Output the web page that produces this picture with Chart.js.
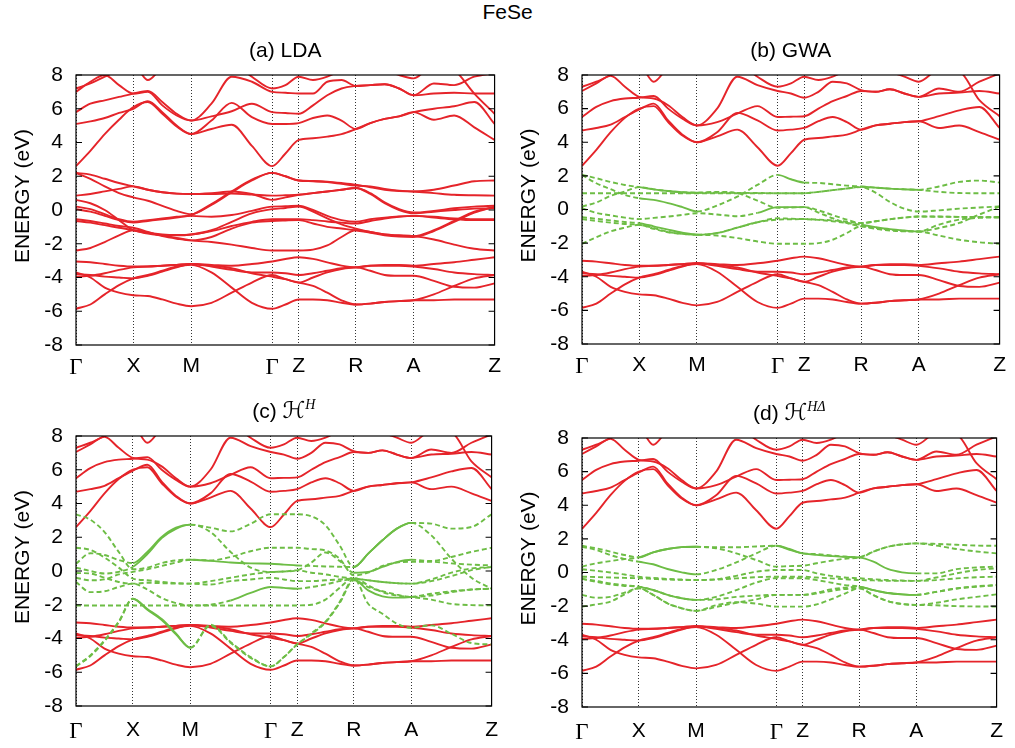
<!DOCTYPE html>
<html>
<head>
<meta charset="utf-8">
<title>FeSe band structure</title>
<script src="https://cdn.jsdelivr.net/npm/chart.js@4.4.1/dist/chart.umd.min.js"></script>
<style>
  body { margin: 0; background: #fff; }
  #page { position: relative; width: 1015px; height: 748px; font-family: "Liberation Sans", Arial, sans-serif; }
  #title { position: absolute; left: 0; top: 0; width: 1015px; text-align: center; font-size: 21px; line-height: 24px; }
  canvas { position: absolute; }
</style>
</head>
<body>
<div id="page">
  <div id="title">FeSe</div>
  <canvas id="panelA" width="510" height="360" style="left:0;top:30px;width:510px;height:360px"></canvas>
  <canvas id="panelB" width="510" height="360" style="left:505px;top:30px;width:510px;height:360px"></canvas>
  <canvas id="panelC" width="510" height="357" style="left:0;top:391px;width:510px;height:357px"></canvas>
  <canvas id="panelD" width="510" height="357" style="left:505px;top:391px;width:510px;height:357px"></canvas>
</div>
<script>
// k-path distances: Γ X M Γ Z R A Z, with sample points between them
const kPos = [0, 14.6, 29.2, 43.7, 58.3, 73, 87.7, 102.3, 117, 137.6, 158.2, 178.7, 199.3,
  212.8, 226.3, 240.8, 255.3, 269.8, 284.3, 299, 313.6, 328.3, 343, 363.6, 384.2, 404.7, 425.3];
const symPos = [0, 58.3, 117, 199.3, 226.3, 284.3, 343, 425.3];
const symLabels = ['Γ', 'X', 'M', 'Γ', 'Z', 'R', 'A', 'Z'];
const yTicks = [-8, -6, -4, -2, 0, 2, 4, 6, 8];

// Se p bands (same in every panel)
const se1 = [-3.05,-3.1,-3.2,-3.3,-3.35,-3.35,-3.3,-3.25,-3.2,-3.25,-3.3,-3.2,-3.05,-2.9,-2.8,-2.9,-3.1,-3.3,-3.4,-3.3,-3.25,-3.25,-3.3,-3.2,-3.1,-2.95,-2.8];
const se2 = [-3.7,-4.0,-4.6,-4.9,-5.05,-5.1,-5.3,-5.55,-5.7,-5.5,-4.9,-4.3,-3.85,-4.1,-4.3,-4.5,-4.9,-5.35,-5.6,-5.55,-5.45,-5.4,-5.35,-5.0,-4.5,-4.05,-3.85];
const se3 = [-5.85,-5.6,-5.0,-4.45,-4.05,-3.85,-3.6,-3.35,-3.25,-3.7,-4.6,-5.5,-5.85,-5.6,-5.3,-5.3,-5.35,-5.5,-5.6,-5.55,-5.45,-5.4,-5.35,-5.35,-5.3,-5.3,-5.3];
const se4 = [-3.8,-3.85,-3.95,-4.0,-4.05,-3.9,-3.65,-3.4,-3.2,-3.35,-3.55,-3.7,-3.7,-3.75,-3.85,-3.75,-3.6,-3.45,-3.4,-3.6,-3.85,-3.9,-3.9,-4.2,-4.55,-4.6,-4.35];
const se5 = [-3.95,-3.9,-3.75,-3.55,-3.4,-3.35,-3.3,-3.25,-3.2,-3.3,-3.45,-3.75,-3.95,-4.1,-4.3,-4.0,-3.7,-3.5,-3.4,-3.3,-3.3,-3.3,-3.35,-3.5,-3.7,-3.8,-3.85];

// LDA conduction bands
const ldaUp1 = [2.6,3.5,4.5,5.35,6.1,6.4,5.7,4.95,4.5,4.8,5.05,3.8,2.6,3.35,4.15,4.25,4.35,4.5,4.8,5.15,5.4,5.55,5.8,5.35,5.6,4.9,4.15];
const ldaUp2 = [5.1,5.25,5.45,5.75,6.0,6.45,5.8,5.0,4.5,5.3,6.35,5.5,5.1,5.1,5.15,5.45,5.6,5.3,4.8,5.15,5.4,5.55,5.8,6.0,6.15,6.4,5.1];
const ldaUp3 = [5.8,6.3,6.5,6.7,6.9,7.05,6.4,5.7,5.3,5.55,5.85,6.3,5.8,5.75,5.7,6.2,6.8,7.2,7.35,7.4,7.45,7.2,6.8,6.9,6.95,6.9,6.9];
const ldaUp4 = [7.0,7.6,8.0,7.4,6.9,7.0,6.2,5.6,5.3,6.3,7.9,7.6,7.0,6.95,6.9,6.9,7.6,7.7,7.35,7.4,7.45,7.2,6.8,7.5,7.4,7.9,8.1];
const ldaUp5 = [7.2,7.5,7.9,8.3,8.6,7.7,8.5,9.2,9.5,9.2,8.8,7.9,7.2,7.4,7.9,7.7,7.9,8.3,8.5,8.5,8.3,8.0,7.8,8.6,8.3,6.9,5.7];

// GW conduction bands (panels b, c, d)
const gwUp1 = [2.6,3.55,4.6,5.45,6.0,6.15,5.2,4.4,4.0,4.35,4.75,3.7,2.6,3.35,4.15,4.25,4.35,4.45,4.75,5.0,5.1,5.2,5.25,4.85,5.0,4.6,4.15];
const gwUp2 = [4.7,4.85,5.05,5.5,5.95,6.3,5.3,4.45,4.0,4.6,5.75,5.3,4.7,4.75,4.85,5.25,5.5,5.2,4.75,5.0,5.1,5.2,5.25,5.55,5.9,6.1,4.85];
const gwUp3 = [5.5,6.1,6.45,6.6,6.65,6.75,6.0,5.4,5.0,5.2,5.7,6.15,5.5,5.52,5.55,6.0,6.45,6.75,7.05,7.0,7.15,6.9,6.7,6.9,6.95,7.05,6.9];
const gwUp4 = [7.05,7.5,7.95,7.3,6.7,6.6,6.2,5.5,5.0,6.0,7.9,7.4,7.05,6.9,6.65,7.0,7.6,7.5,7.1,7.0,7.15,6.9,6.7,7.2,7.0,7.6,8.1];
const gwUp5 = [7.3,7.6,8.0,8.4,8.6,7.6,8.5,9.2,9.5,9.2,8.8,7.9,7.3,7.5,7.9,7.7,7.9,8.3,8.5,8.4,8.2,7.9,7.6,8.3,8.2,6.5,5.55];

// LDA Fe d bands
const ldaD1 = [2.2,2.1,1.85,1.6,1.4,1.2,1.05,0.97,0.95,0.95,0.97,0.92,0.85,0.87,0.9,1.0,1.1,1.2,1.3,1.0,0.45,0.05,-0.15,-0.05,0.1,0.2,0.25];
const ldaD2 = [2.2,1.85,1.4,1.0,0.75,0.55,0.25,-0.05,-0.25,0.3,1.05,1.75,2.2,2.0,1.75,1.72,1.68,1.6,1.5,1.35,1.2,1.12,1.1,1.2,1.45,1.7,1.75];
const ldaD3 = [0.85,0.95,1.1,1.25,1.4,1.2,1.05,0.97,0.95,1.0,1.1,0.95,0.6,0.75,0.9,1.0,1.1,1.2,1.3,0.95,0.4,0.0,-0.2,-0.1,0.0,0.08,0.1];
const ldaD4 = [0.2,0.05,-0.25,-0.55,-0.7,-0.6,-0.5,-0.4,-0.3,0.35,1.1,1.8,2.2,2.0,1.75,1.7,1.65,1.55,1.45,1.4,1.25,1.15,1.1,1.0,0.9,0.87,0.85];
const ldaD5 = [0.05,-0.1,-0.35,-0.6,-0.75,-0.65,-0.55,-0.45,-0.35,-0.4,-0.3,-0.05,0.2,0.22,0.25,0.0,-0.35,-0.6,-0.7,-0.55,-0.45,-0.38,-0.35,-0.4,-0.5,-0.55,-0.55];
const ldaD6 = [-0.55,-0.65,-0.8,-0.95,-1.05,-1.3,-1.55,-1.7,-1.8,-1.6,-1.1,-0.75,-0.65,-0.62,-0.6,-0.8,-1.0,-1.1,-1.2,-1.35,-1.5,-1.58,-1.6,-1.25,-0.7,-0.15,0.2];
const ldaD7 = [-0.65,-0.75,-0.9,-1.05,-1.2,-1.4,-1.5,-1.5,-1.45,-1.2,-0.7,-0.2,0.05,0.12,0.2,-0.1,-0.5,-0.85,-1.1,-1.3,-1.45,-1.52,-1.55,-1.2,-0.65,-0.1,0.15];
const ldaD8 = [0.6,0.4,0.0,-0.6,-1.2,-1.35,-1.45,-1.48,-1.45,-1.25,-0.95,-0.7,-0.55,-0.55,-0.55,-0.6,-0.68,-0.75,-0.8,-0.65,-0.5,-0.4,-0.35,-0.45,-0.55,-0.6,-0.6];
const ldaD9 = [-2.4,-2.25,-1.9,-1.5,-1.2,-1.35,-1.5,-1.65,-1.8,-1.9,-2.05,-2.25,-2.4,-2.4,-2.4,-2.35,-2.1,-1.6,-1.2,-1.3,-1.45,-1.5,-1.55,-1.75,-2.05,-2.3,-2.4];

// GWA d bands
const gwaD1 = [2.06,1.86,1.64,1.46,1.33,1.2,1.1,1.03,1.0,1.0,0.99,0.98,0.97,0.97,0.97,1.05,1.15,1.25,1.33,1.0,0.45,0.05,-0.12,-0.05,0.05,0.12,0.18];
const gwaD2 = [2.06,1.56,1.21,0.87,0.67,0.57,0.38,0.14,-0.12,0.24,0.77,1.46,2.06,1.8,1.6,1.58,1.5,1.42,1.37,1.3,1.24,1.2,1.17,1.37,1.64,1.72,1.6];
const gwaD3 = [0.18,0.42,0.81,1.07,1.33,1.2,1.1,1.03,1.0,1.05,0.97,0.53,0.1,0.12,0.14,-0.18,-0.52,-0.81,-1.0,-1.1,-1.2,-1.28,-1.31,-0.9,-0.6,-0.5,-0.46];
const gwaD4 = [0.97,0.97,0.97,0.97,0.97,0.97,0.97,0.97,0.97,0.97,0.97,0.97,0.97,0.97,0.97,1.05,1.15,1.25,1.35,1.3,1.24,1.2,1.17,1.05,0.98,0.97,0.97];
const gwaD5 = [0.08,-0.2,-0.35,-0.48,-0.57,-0.5,-0.42,-0.32,-0.22,-0.3,-0.4,-0.2,0.14,0.14,0.14,-0.05,-0.33,-0.6,-0.81,-0.7,-0.58,-0.48,-0.42,-0.42,-0.44,-0.45,-0.46];
const gwaD6 = [-0.46,-0.55,-0.65,-0.74,-0.81,-1.0,-1.2,-1.38,-1.5,-1.4,-1.08,-0.76,-0.52,-0.55,-0.57,-0.62,-0.7,-0.8,-0.91,-1.05,-1.17,-1.25,-1.31,-1.1,-0.8,-0.3,0.18];
const gwaD7 = [-0.57,-0.68,-0.78,-0.86,-0.91,-1.1,-1.33,-1.45,-1.5,-1.4,-1.08,-0.76,-0.6,-0.58,-0.57,-0.6,-0.65,-0.72,-0.81,-0.7,-0.58,-0.48,-0.42,-0.43,-0.44,-0.45,-0.46];
const gwaD8 = [-2.04,-1.65,-1.3,-1.08,-0.91,-1.15,-1.35,-1.45,-1.5,-1.55,-1.7,-1.9,-2.04,-2.04,-2.04,-2.0,-1.8,-1.4,-1.0,-1.15,-1.25,-1.3,-1.31,-1.55,-1.8,-1.95,-2.04];

// H^H model bands
const hhD1 = [3.36,3.04,2.31,1.13,0.1,0.2,0.47,0.63,0.67,0.6,0.5,0.45,0.43,0.38,0.33,0.3,0.27,0.25,0.24,1.03,1.82,2.51,2.85,2.81,2.51,2.61,3.36];
const hhD2 = [1.38,1.25,0.8,0.2,-0.45,-0.55,-0.65,-0.72,-0.75,-0.6,-0.4,-0.2,-0.06,-0.03,0.04,0.5,1.1,0.6,-0.1,-0.05,0.24,0.53,0.67,0.59,0.83,1.13,1.38];
const hhD3 = [0.43,1.05,0.95,0.65,0.47,1.13,2.02,2.57,2.75,2.57,2.35,2.8,3.36,3.36,3.36,3.24,2.71,1.52,0.24,1.03,1.82,2.51,2.85,2.11,0.73,-0.4,-1.05];
const hhD4 = [0.2,0.0,-0.15,-0.05,0.25,1.0,1.95,2.5,2.75,2.31,1.13,0.2,-0.06,-0.03,0.04,-0.1,-0.2,-0.35,-0.45,-0.55,-0.65,-0.72,-0.75,-0.6,-0.3,0.05,0.24];
const hhD5 = [-0.12,-0.15,-0.4,-0.65,-0.75,-0.7,-0.72,-0.75,-0.75,-0.8,-0.6,-0.5,-0.4,-0.5,-0.6,-0.6,-0.55,-0.5,-0.45,-0.55,-0.65,-0.72,-0.75,-0.5,-0.1,0.15,0.24];
const hhD6 = [-0.4,-0.55,-0.5,-0.2,-0.05,0.1,0.3,0.5,0.67,0.63,0.83,1.17,1.38,1.38,1.38,1.3,1.22,0.73,-0.26,-0.1,0.3,0.5,0.55,0.55,0.45,0.38,0.33];
const hhD7 = [-0.65,-1.25,-1.2,-0.95,-0.75,-1.1,-1.6,-1.9,-2.04,-2.0,-1.75,-1.3,-0.95,-1.0,-1.05,-0.95,-0.8,-0.6,-0.5,-1.15,-1.5,-1.58,-1.54,-1.35,-1.2,-1.1,-1.05];
const hhD8 = [-2.04,-2.04,-2.04,-2.04,-2.04,-2.04,-2.04,-2.04,-2.04,-2.04,-2.04,-2.04,-2.04,-2.04,-2.04,-2.0,-1.7,-1.0,-0.4,-0.85,-1.25,-1.45,-1.54,-1.7,-1.95,-2.02,-2.04];
const hhD9 = [-5.65,-5.0,-4.1,-3.0,-1.64,-2.25,-2.85,-3.7,-4.55,-3.18,-4.21,-5.1,-5.65,-5.1,-4.35,-3.7,-3.0,-1.84,-0.45,-1.94,-2.53,-3.12,-3.36,-3.22,-3.72,-4.27,-4.35];
const hhD10 = [-5.65,-5.05,-4.15,-3.05,-1.64,-2.3,-2.9,-3.75,-4.55,-3.25,-4.25,-5.15,-5.65,-5.1,-4.35,-3.75,-3.05,-1.9,-0.55,-0.95,-1.2,-1.4,-1.54,-1.45,-1.25,-1.1,-1.05];

// H^HΔ model bands
const hdD1 = [1.59,1.44,1.24,1.04,0.9,1.2,1.4,1.51,1.53,1.44,1.14,0.74,0.35,0.38,0.4,0.55,0.7,0.82,0.9,1.24,1.53,1.67,1.73,1.7,1.65,1.6,1.59];
const hdD2 = [1.53,1.34,1.04,0.8,0.64,0.49,0.21,0.01,-0.11,0.15,0.6,1.14,1.59,1.35,1.14,1.05,0.98,0.93,0.9,0.64,0.21,0.01,-0.05,-0.05,0.2,0.3,0.35];
const hdD3 = [0.35,0.55,0.68,0.8,0.9,1.2,1.4,1.51,1.53,1.5,1.5,1.55,1.59,1.4,1.14,1.1,1.02,0.95,0.9,1.24,1.53,1.67,1.73,1.6,1.4,1.25,1.14];
const hdD4 = [0.19,0.1,0.0,-0.12,-0.25,-0.32,-0.38,-0.42,-0.45,-0.4,-0.2,0.05,0.15,0.15,0.15,-0.05,-0.2,-0.3,-0.34,-0.4,-0.45,-0.48,-0.5,-0.45,-0.35,-0.28,-0.25];
const hdD5 = [-0.25,-0.27,-0.3,-0.32,-0.34,-0.38,-0.42,-0.44,-0.45,-0.42,-0.35,-0.28,-0.25,-0.25,-0.25,-0.3,-0.35,-0.4,-0.45,-0.47,-0.5,-0.5,-0.5,-0.3,-0.05,0.15,0.25];
const hdD6 = [-0.38,-0.5,-0.65,-0.75,-0.84,-1.04,-1.33,-1.53,-1.63,-1.45,-1.05,-0.6,-0.34,-0.34,-0.34,-0.45,-0.6,-0.75,-0.84,-1.05,-1.22,-1.3,-1.33,-1.15,-0.95,-0.82,-0.75];
const hdD7 = [-1.33,-1.5,-1.45,-1.2,-0.94,-1.33,-1.83,-2.13,-2.28,-1.95,-1.77,-1.85,-2.03,-2.03,-2.03,-1.9,-1.6,-1.25,-0.94,-1.35,-1.7,-1.87,-1.93,-1.95,-2.0,-2.02,-2.03];
const hdD8 = [-2.03,-1.9,-1.73,-1.3,-0.94,-1.33,-1.83,-2.13,-2.28,-2.05,-1.8,-1.6,-1.33,-1.33,-1.33,-1.25,-1.1,-0.98,-0.94,-1.35,-1.7,-1.87,-1.93,-1.8,-1.6,-1.45,-1.3];
const hdD9 = [-0.38,-0.55,-0.7,-0.8,-0.84,-1.04,-1.33,-1.53,-1.63,-1.6,-1.45,-1.38,-1.33,-1.33,-1.33,-1.2,-1.0,-0.9,-0.84,-1.05,-1.22,-1.3,-1.33,-1.15,-0.95,-0.85,-0.75];

const sans = '"Liberation Sans", Arial, sans-serif';
const red = '#e5242a';
const green = '#6dbd45';

const toPoints = band => kPos.map((x, i) => ({ x, y: band[i] }));

function redSet(band) {
  return { data: toPoints(band), borderColor: red, borderWidth: 1.9, order: 2 };
}

// dashed green band; spans lists k-index ranges where it is drawn solid
function greenSet(band, spans = []) {
  const solid = i => spans.some(([a, b]) => i >= a && i < b);
  return {
    data: toPoints(band), borderColor: green, borderWidth: 1.9, borderDash: [5, 3], order: 1,
    segment: { borderDash: ctx => (solid(ctx.p0DataIndex) ? [] : undefined) }
  };
}

// frame, inward y tics, panel title and y label
const bandFrame = {
  id: 'bandFrame',
  afterDatasetsDraw(chart) {
    const { ctx, chartArea: a, scales: { y } } = chart;
    ctx.save();
    ctx.strokeStyle = '#000';
    ctx.lineWidth = 1.2;
    ctx.strokeRect(a.left, a.top, a.right - a.left, a.bottom - a.top);
    ctx.beginPath();
    yTicks.forEach(v => {
      const py = y.getPixelForValue(v);
      ctx.moveTo(a.left, py); ctx.lineTo(a.left + 6, py);
      ctx.moveTo(a.right, py); ctx.lineTo(a.right - 6, py);
    });
    ctx.stroke();
    ctx.restore();
  },
  afterDraw(chart, args, opts) {
    const { ctx, chartArea: a } = chart;
    ctx.save();
    ctx.fillStyle = '#000';
    ctx.textBaseline = 'alphabetic';
    let w = 0;
    opts.title.forEach(p => { ctx.font = p.font; w += ctx.measureText(p.text).width; });
    let x = (a.left + a.right) / 2 - w / 2;
    opts.title.forEach(p => {
      ctx.font = p.font;
      ctx.fillText(p.text, x, a.top - 18 - (p.rise || 0));
      x += ctx.measureText(p.text).width;
    });
    ctx.translate(opts.yTitleX, (a.top + a.bottom) / 2 - 14);
    ctx.rotate(-Math.PI / 2);
    ctx.font = '21px ' + sans;
    ctx.textAlign = 'center';
    ctx.textBaseline = 'middle';
    ctx.fillText('ENERGY (eV)', 0, 0);
    ctx.restore();
  }
};

function makePanel(id, box, title, datasets) {
  new Chart(document.getElementById(id), {
    type: 'line',
    data: { datasets },
    plugins: [bandFrame],
    options: {
      responsive: false,
      animation: false,
      events: [],
      layout: { autoPadding: false, padding: { left: 0, right: 9, top: box.padTop, bottom: 0 } },
      elements: {
        point: { radius: 0 },
        line: { cubicInterpolationMode: 'monotone', fill: false }
      },
      scales: {
        x: {
          type: 'linear', min: 0, max: 425.3,
          afterBuildTicks: s => { s.ticks = symPos.map(v => ({ value: v })); },
          afterFit: s => { s.height = box.xHeight; },
          grid: { color: '#333', lineWidth: 1, drawTicks: false },
          border: { display: false, dash: [1, 2] },
          ticks: {
            autoSkip: false, maxRotation: 0, padding: box.xPad, color: '#000',
            callback: (v, i) => symLabels[i],
            font: c => (symLabels[c.index] === 'Γ'
              ? { family: '"Liberation Serif", serif', size: 23 }
              : { family: sans, size: 21 })
          }
        },
        y: {
          min: -8, max: 8,
          afterFit: s => { s.width = box.yWidth; },
          grid: { display: false, drawTicks: false },
          border: { display: false },
          ticks: { stepSize: 2, padding: 13, color: '#000', font: { family: sans, size: 21 } }
        }
      },
      plugins: {
        legend: { display: false },
        tooltip: { enabled: false },
        bandFrame: { title, yTitleX: box.yTitleX }
      }
    }
  });
}

const f21 = '21px ' + sans;
const scriptH = 'italic 23px "DejaVu Serif", "DejaVu Sans", serif';
const supFont = 'italic 14px "Liberation Serif", "DejaVu Serif", serif';

const seSets = () => [se1, se2, se3, se4, se5].map(redSet);
const gwUpSets = () => [gwUp1, gwUp2, gwUp3, gwUp4, gwUp5].map(redSet);

makePanel('panelA', { padTop: 45, xHeight: 45, yWidth: 76, xPad: 9, yTitleX: 23 },
  [{ text: '(a) LDA', font: f21 }],
  [...seSets(),
   ...[ldaUp1, ldaUp2, ldaUp3, ldaUp4, ldaUp5].map(redSet),
   ...[ldaD1, ldaD2, ldaD3, ldaD4, ldaD5, ldaD6, ldaD7, ldaD8, ldaD9].map(redSet)]);

makePanel('panelB', { padTop: 45, xHeight: 46, yWidth: 77, xPad: 9, yTitleX: 24 },
  [{ text: '(b) GWA', font: f21 }],
  [...seSets(), ...gwUpSets(),
   greenSet(gwaD1, [[4, 8]]), greenSet(gwaD2, [[4, 8], [12, 14], [18, 22]]), greenSet(gwaD3),
   greenSet(gwaD4), greenSet(gwaD5, [[11, 14]]),
   greenSet(gwaD6, [[4, 8], [18, 22]]), greenSet(gwaD7), greenSet(gwaD8)]);

makePanel('panelC', { padTop: 45, xHeight: 42, yWidth: 76, xPad: 12, yTitleX: 23 },
  [{ text: '(c) ', font: f21 }, { text: 'ℋ', font: scriptH }, { text: 'H', font: supFont, rise: 9 }],
  [...seSets(), ...gwUpSets(),
   greenSet(hhD1, [[8, 14], [18, 22]]), greenSet(hhD2, [[18, 22]]),
   greenSet(hhD3, [[4, 8], [18, 22]]), greenSet(hhD4, [[4, 8]]), greenSet(hhD5), greenSet(hhD6),
   greenSet(hhD7, [[10, 14], [18, 22]]), greenSet(hhD8),
   greenSet(hhD9, [[4, 8]]), greenSet(hhD10, [[4, 8]])]);

makePanel('panelD', { padTop: 47, xHeight: 41, yWidth: 77, xPad: 12, yTitleX: 24 },
  [{ text: '(d) ', font: f21 }, { text: 'ℋ', font: scriptH }, { text: 'HΔ', font: supFont, rise: 9 }],
  [...seSets(), ...gwUpSets(),
   greenSet(hdD1, [[4, 8]]), greenSet(hdD2, [[4, 8], [12, 22]]),
   greenSet(hdD3, [[4, 8], [12, 14]]), greenSet(hdD4), greenSet(hdD5),
   greenSet(hdD6, [[4, 8], [18, 22]]), greenSet(hdD7), greenSet(hdD8),
   greenSet(hdD9, [[18, 22]])]);
</script>
</body>
</html>
